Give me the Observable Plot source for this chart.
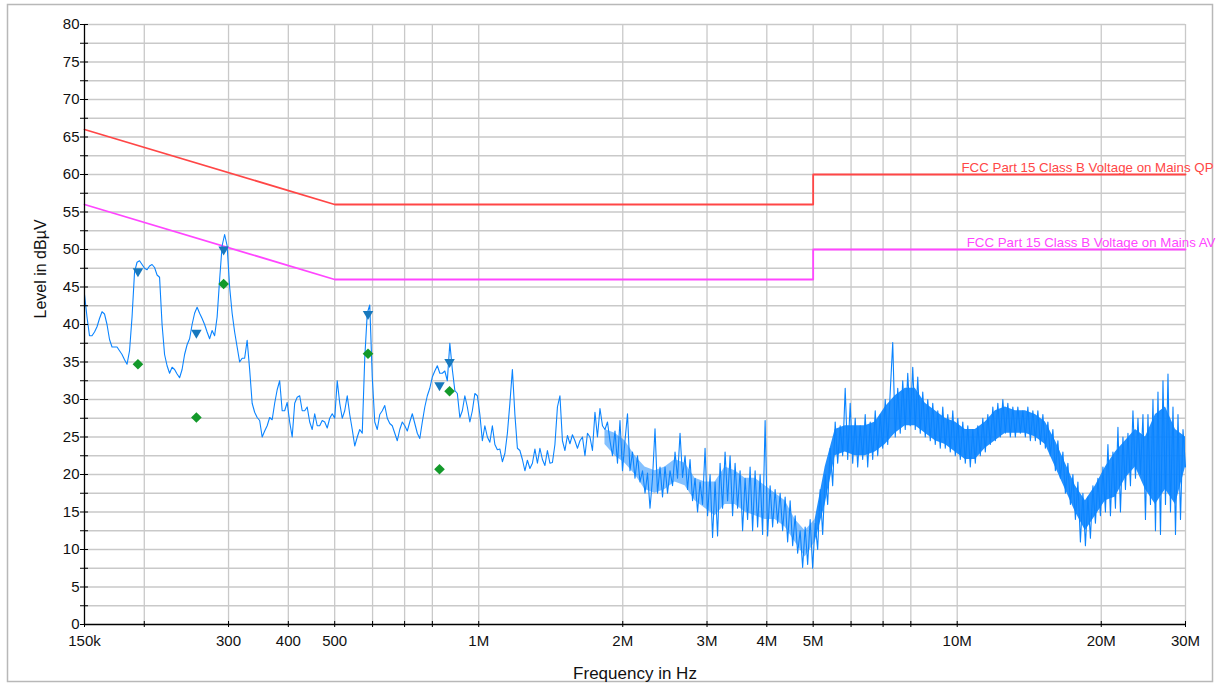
<!DOCTYPE html>
<html><head><meta charset="utf-8">
<script src="https://cdn.jsdelivr.net/npm/d3@7"></script>
<script src="https://cdn.jsdelivr.net/npm/@observablehq/plot@0.6"></script>
<style>
html,body{margin:0;padding:0;background:#fff;}
#chart{position:relative;width:1220px;height:683px;}
#chart svg{display:block;}
</style></head><body><div id="chart"></div>
<script>
// Measured trace: levels (dBµV) on a log-spaced sweep from 150 kHz to 30 MHz
const traceStartHz = 150e3;
const traceStopHz = 30e6;
const traceLevels = [
44,41,38.5,38.5,39,39.7,40.8,41.7,41.4,40,
38,37,37,37,36.5,36,35.3,34.7,36.5,41,
47,48.3,48.5,48,47.5,47.3,47.8,48,47.6,46.6,
46.3,40,36,34.5,33.5,34.3,34,33.4,32.9,34,
36,37.3,38.1,40,41.5,42.3,41.5,40.8,40,39,
38.1,39.2,38.5,41,46,50.5,52,50.5,45,41.5,
39,37,35,35.5,35.5,37.9,34,29.5,28.3,27.6,
27.2,25,25.8,26.5,27.6,27.3,29.5,31.3,32.5,28.5,
28.5,29.6,27,25,29.5,30.3,30.5,28.5,28.5,29,
27,26,28.1,26.5,26.5,27.2,27,26.2,27.5,28.1,
27.5,32.5,29.5,27.5,28.5,30.5,28,26,23.8,25,
26,25.5,35.5,41.5,42.6,33,27,26,28,28.5,
29.2,27.5,26.8,26.5,25.5,24.5,26,27,26.5,25.8,
27,28.1,26.8,25.5,24.8,27,29,30.5,31.5,33,
33.8,34.5,33.5,33.5,33.8,32.5,37.5,34,31.2,30.8,
27.6,28.5,30.5,29,27,28.5,30.8,30.5,28,24.5,
26.5,25,24.3,26.5,24,23.3,23.4,21.7,22.8,25.5,
29.5,34,28,23.5,23.2,22,20.5,21.9,20.8,21.5,
23.4,21.5,23.5,22,21.2,23.2,21.5,21.6,24,29,
30.5,24.5,23.2,25.2,24.1,25.3,24.5,23.5,24.5,25,
22.5,25.5,25,23.2,28.3,25,28.8,26.5,26,27,
24.5,22.5,25.8,21.5,27.2,20.5,24.5,28.1,20.5,23,
19.5,22.5,19,20.5,17.5,20.2,15.5,19.5,26.1,17.5,
21,17,21,17.5,20.5,18.5,23,19.5,25.5,19.6,
22.5,18,22,16.5,19.5,15,19,16,23.5,14.5,
20,11.6,19,11.8,21.5,15.5,23,16.5,22.5,14.5,
21.5,15.5,20.5,12.5,19.5,14,21,12.5,20.5,13,
20,12,27.2,11.8,18.5,13,18,13.5,17.5,12.5,
17,11,16.5,10.5,14.5,9.5,12.5,7.6,13,8,
14,7.5,13.5,10,18,12,20,16,23.5,18.5,
27,21.5,26.5,22.5,31.5,22,29.5,21.5,27.5,21,
26.5,22,28,21,27,22,28.5,22.5,28,23.5,
30,24,31,37.6,25,31.5,25.5,32.5,26,33.5,
26.5,34.3,26,33,25.5,31,25,30,24.5,29.5,
24,28.5,23.5,29,23.5,28,23,28.5,22.5,27.5,
22,27,21.5,26.5,21,26,21.5,26.5,22.5,27.5,
23,28,24,29,24.5,29.5,25,30,25.5,29.5,
25,29,25,29,25.5,28.5,25,29,24.5,28.5,
24.5,28.5,24,28,23.5,27,22.5,26,20.5,24.5,
19.5,23,17.5,21.5,16,20,14,19,11,17.5,
10.5,17,11.5,18.5,13.5,19.5,14.5,21,15,24,
14.5,23,15.5,26.3,15,25,18,25.5,18.5,28.5,
19.5,27.5,20,28,14,28,16,30,12.5,31,
12,32.5,16,33.4,15,29,12,28,14,26,21
];

// Dense noise core of the trace (where the sweep points overlap into a solid band),
// read every 4th sweep point starting at sweep index 208
const bandStartIndex = 208;
const bandStep = 4;
const bandLo = [24,22.5,21.5,20,18,17.5,18,19,18.5,16.5,
15.5,14.5,16,16,15,14.5,14,14,13,11,
9,11,16,22.5,23,22.5,22.5,23,24,25.5,
26.5,26.5,25.5,24.5,24,23,22,22,23.5,24.5,
25.5,25.5,25.5,25,24,21,18,15,12.5,14.5,
16.5,17,19.5,21,18,16,18,16,21];
const bandHi = [26,25.5,24.5,22.5,21,20.5,21,22,21.5,19.5,
19,19,21,20.5,19.5,19.5,18.5,17.5,16.5,14,
12.5,14,21,26,26.5,26.5,26.5,27,29,30.5,
31.5,31.5,29.5,28.5,27.5,27,26,26,27,28.5,
29,28.5,28.5,28,27,24.5,21.5,18.5,16.5,18.5,
21,23,24.5,26,25,28,29,26,25];
const bandSparseCount = 22; // band points below 5 MHz, where the noise is less dense

// Limit lines
const qpFreqsHz = [150e3, 500e3, 5e6, 5e6, 30e6];
const qpLevels  = [66, 56, 56, 60, 60];
const avFreqsHz = [150e3, 500e3, 5e6, 5e6, 30e6];
const avLevels  = [56, 46, 46, 50, 50];
const qpName = "FCC Part 15 Class B Voltage on Mains QP";
const avName = "FCC Part 15 Class B Voltage on Mains AV";

// Final measurement markers
const peakFreqsHz = [194e3, 257e3, 293e3, 587e3, 828e3, 869e3];
const peakLevels  = [47.1, 38.9, 50.0, 41.4, 31.9, 35.0];
const avgFreqsHz  = [194e3, 257e3, 293e3, 587e3, 828e3, 869e3];
const avgLevels   = [34.7, 27.6, 45.4, 36.1, 20.7, 31.1];

// Axis ticks
const xTickHz = [150e3,200e3,300e3,400e3,500e3,600e3,700e3,800e3,1e6,2e6,3e6,4e6,5e6,6e6,7e6,8e6,10e6,20e6,30e6];
const xTickLabels = ["150k","","300","400","500","","","800","1M","2M","3M","4M","5M","6","","8","10M","20M","30M"];
const yTickDb = [0,2.5,5,7.5,10,12.5,15,17.5,20,22.5,25,27.5,30,32.5,35,37.5,40,42.5,45,47.5,50,52.5,55,57.5,60,62.5,65,67.5,70,72.5,75,77.5,80];
const yTickLabels = ["0","","5","","10","","15","","20","","25","","30","","35","","40","","45","","50","","55","","60","","65","","70","","75","","80"];
const xTitle = "Frequency in Hz";
const yTitle = "Level in dBµV";

// Build tables
const n = traceLevels.length;
const sweepHz = i => traceStartHz * Math.pow(traceStopHz / traceStartHz, i / (n - 1));
const trace = traceLevels.map((v, i) => ({f: sweepHz(i), v}));
const band = bandLo.map((lo, k) => ({f: sweepHz(bandStartIndex + k * bandStep), lo, hi: bandHi[k]}));
const qp = qpFreqsHz.map((f, i) => ({f, v: qpLevels[i]}));
const av = avFreqsHz.map((f, i) => ({f, v: avLevels[i]}));
const peaks = peakFreqsHz.map((f, i) => ({f, v: peakLevels[i]}));
const avgs = avgFreqsHz.map((f, i) => ({f, v: avgLevels[i]}));
const xLabel = new Map(xTickHz.map((d, i) => [d, xTickLabels[i]]));
const yLabel = new Map(yTickDb.map((d, i) => [d, yTickLabels[i]]));

const gridColor = "#c9c9c9";
const traceColor = "#0a84ff";
const chart = Plot.plot({
  width: 1220, height: 683,
  marginLeft: 84, marginRight: 35, marginTop: 24, marginBottom: 59,
  x: {type: "log", domain: [150e3, 30e6]},
  y: {domain: [0, 80]},
  style: {fontFamily: "'Liberation Sans', Arial, sans-serif", fontSize: "15px", color: "#111", background: "transparent", overflow: "visible"},
  marks: [
    Plot.ruleX(xTickHz.slice(1), {stroke: gridColor, strokeWidth: 1.3}),
    Plot.ruleY(yTickDb.slice(1), {stroke: gridColor, strokeWidth: 1.3}),
    Plot.line(qp, {x: "f", y: "v", stroke: "#ff4646", strokeWidth: 1.8}),
    Plot.line(av, {x: "f", y: "v", stroke: "#ff46ff", strokeWidth: 1.8}),
    Plot.areaY(band.slice(0, bandSparseCount), {x: "f", y1: "lo", y2: "hi", fill: traceColor, fillOpacity: 0.5}),
    Plot.areaY(band.slice(bandSparseCount - 1), {x: "f", y1: "lo", y2: "hi", fill: traceColor, fillOpacity: 0.9}),
    Plot.line(trace, {x: "f", y: "v", stroke: traceColor, strokeWidth: 1.1}),
    Plot.dot(peaks, {x: "f", y: "v", symbol: "triangle", rotate: 180, r: 3.9, fill: "#1778bd", stroke: "none"}),
    Plot.dot(avgs, {x: "f", y: "v", symbol: "diamond2", r: 4.8, fill: "#13992a", stroke: "none"}),
    Plot.text([qp[qp.length - 1]], {x: "f", y: "v", text: () => qpName, fill: "#ff4646", textAnchor: "end", lineAnchor: "bottom", dx: 28, dy: -3, fontSize: 13.3}),
    Plot.text([av[av.length - 1]], {x: "f", y: "v", text: () => avName, fill: "#ff46ff", textAnchor: "end", lineAnchor: "bottom", dx: 30, dy: -3, fontSize: 13.3}),
    Plot.ruleX([150e3], {stroke: "#000", strokeWidth: 1.3}),
    Plot.ruleY([0], {stroke: "#000", strokeWidth: 1.3}),
    Plot.axisY({ticks: yTickDb, tickSize: 8, dx: 4, tickPadding: 1, tickFormat: d => yLabel.get(d), label: null, stroke: "#000"}),
    Plot.axisX({ticks: xTickHz, tickSize: 6, dy: -3, tickPadding: 8, tickFormat: d => xLabel.get(d), label: null, stroke: "#000"}),
    Plot.text([yTitle], {frameAnchor: "left", dx: -44, dy: -6, rotate: -90, fontSize: 16}),
    Plot.text([xTitle], {frameAnchor: "bottom", dy: 54, fontSize: 17})
  ]
});
d3.select(chart).insert("rect", ":first-child")
  .attr("x", 7.5).attr("y", 4.5).attr("width", 1205).attr("height", 677)
  .attr("fill", "#fff").attr("stroke", "#b8b8b8").attr("stroke-width", 1.5);
document.getElementById("chart").appendChild(chart);
</script></body></html>
